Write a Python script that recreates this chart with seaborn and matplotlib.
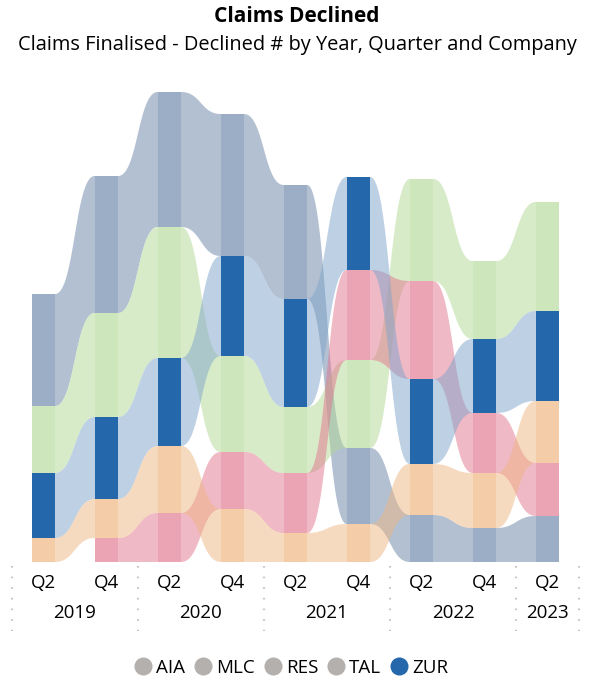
import numpy as np
import pandas as pd
import seaborn as sns
import matplotlib
matplotlib.use("Agg")
import matplotlib.pyplot as plt
from matplotlib.lines import Line2D

# data (Declined # per half-year column)
quarters = ["Q2", "Q4", "Q2", "Q4", "Q2", "Q4", "Q2", "Q4", "Q2"]
years = ["2019", "2019", "2020", "2020", "2021", "2021", "2022", "2022", "2023"]
companies = ["AIA", "MLC", "RES", "TAL", "ZUR"]
aia = [112, 137, 135, 142, 114, 76, 47, 34, 46]
mlc = [67, 104, 131, 96, 66, 88, 102, 78, 109]
res = [0, 24, 49, 57, 60, 90, 98, 60, 53]
tal = [24, 39, 67, 53, 29, 38, 51, 55, 62]
zur = [65, 82, 88, 100, 108, 93, 85, 74, 90]

bar_colors = {"AIA": "#9cadc6", "MLC": "#cde6bb", "RES": "#eba4b3",
              "TAL": "#f5cca8", "ZUR": "#2567ab"}
ribbon_colors = {"AIA": "#6783a7", "MLC": "#b3d995", "RES": "#e1758d",
                 "TAL": "#efb783", "ZUR": "#7fa5cb"}

sns.set_theme(style="white")
plt.rcParams["font.family"] = ["Open Sans", "DejaVu Sans"]

df = pd.DataFrame({"AIA": aia, "MLC": mlc, "RES": res, "TAL": tal, "ZUR": zur})
df["period"] = [y + " " + q for y, q in zip(years, quarters)]
n = len(df)

# stack each column so the largest value sits on top
bottoms = pd.DataFrame(0.0, index=df.index, columns=companies)
for i in range(n):
    order = sorted(companies, key=lambda c: df.loc[i, c])
    acc = 0.0
    for c in order:
        bottoms.loc[i, c] = acc
        acc += df.loc[i, c]

fig = plt.figure(figsize=(5.94, 6.89), dpi=100)
ax = fig.add_axes([11.8 / 594, 127 / 689, 567.3 / 594, 482 / 689])

w = 0.373
t = np.linspace(0, 1, 80)


def bez(x0, x1, y0, y1):
    xm = (x0 + x1) / 2
    xs = (1 - t) ** 3 * x0 + 3 * (1 - t) ** 2 * t * xm + 3 * (1 - t) * t ** 2 * xm + t ** 3 * x1
    ys = y0 + (y1 - y0) * (3 * t ** 2 - 2 * t ** 3)
    # flat runs under both columns so no seam shows at the bar edges
    xs = np.r_[x0 - w / 2, xs, x1 + w / 2]
    ys = np.r_[y0, ys, y1]
    return xs, ys


# ribbons between neighbouring columns
for c in companies:
    for i in range(n - 1):
        v0, v1 = df.loc[i, c], df.loc[i + 1, c]
        if v0 == 0 or v1 == 0:
            continue
        b0, b1 = bottoms.loc[i, c], bottoms.loc[i + 1, c]
        xa, xb = i + w / 2, i + 1 - w / 2
        xt, yt = bez(xa, xb, b0 + v0, b1 + v1)
        xbt, ybt = bez(xa, xb, b0, b1)
        ax.fill(np.r_[xt, xbt[::-1]], np.r_[yt, ybt[::-1]],
                color=ribbon_colors[c], alpha=0.5, lw=0, zorder=1)

# columns
for c in companies:
    sns.barplot(x=df["period"], y=df[c], bottom=bottoms[c], color=bar_colors[c],
                width=w, saturation=1, ax=ax, zorder=3, linewidth=0,
                edgecolor="none")

ax.set_xlim(-0.5, n - 0.5)
ax.set_ylim(0, 482)
ax.set_xticks([])
ax.set_yticks([])
ax.set_xlabel("")
ax.set_ylabel("")
sns.despine(ax=ax, left=True, bottom=True)

# two-level category axis
tr = ax.get_xaxis_transform()
for i, q in enumerate(quarters):
    ax.text(i, -21 / 482, q, transform=tr, ha="center", va="center",
            fontsize=13.5, color="black")
for y in sorted(set(years)):
    idx = [i for i, yy in enumerate(years) if yy == y]
    ax.text(np.mean(idx), -51 / 482, y, transform=tr, ha="center", va="center",
            fontsize=13.5, color="black")
for s in [-0.5, 1.5, 3.5, 5.5, 7.5, 8.5]:
    ax.plot([s, s], [-4 / 482, -69 / 482], transform=tr, clip_on=False,
            ls=(0, (0.8, 4.3)), lw=1.5, color="#c8c6c4")

fig.text(0.5, 1 - 16 / 689, "Claims Declined", ha="center", va="center",
         fontsize=15, fontweight="bold", color="black")
fig.text(0.5, 1 - 45 / 689, "Claims Finalised - Declined # by Year, Quarter and Company",
         ha="center", va="center", fontsize=14.4, color="black")

handles = [Line2D([], [], ls="none", marker="o", markersize=13,
                  markerfacecolor="#2567ab" if c == "ZUR" else "#b3b0ad",
                  markeredgewidth=0) for c in companies]
fig.legend(handles, companies, loc="center", bbox_to_anchor=(291.5 / 594, 1 - 668 / 689),
           ncol=5, frameon=False, fontsize=13.5, handlelength=0.9,
           handletextpad=0.25, columnspacing=0.5, labelcolor="black")

fig.savefig("out.png", dpi=100)
